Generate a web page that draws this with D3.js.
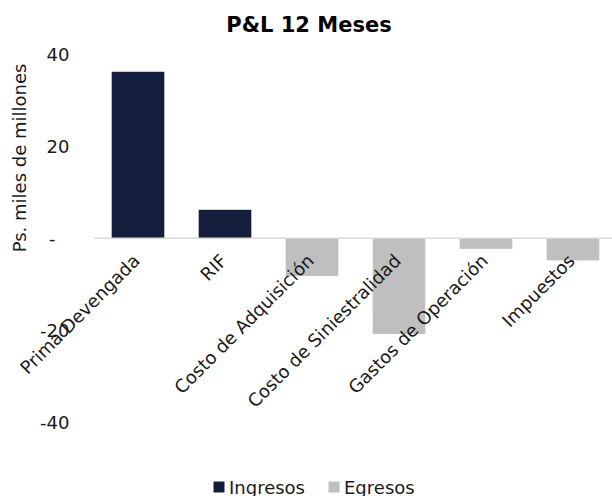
<!DOCTYPE html>
<html>
<head>
<meta charset="utf-8">
<script src="https://cdn.jsdelivr.net/npm/d3@7"></script>
<style>
  html, body { margin: 0; padding: 0; background: #fff; }
  svg { display: block; font-family: "DejaVu Sans", Verdana, sans-serif; }
</style>
</head>
<body>
<svg id="chart" width="612" height="496"></svg>
<script>
const categories = ["Prima Devengada", "RIF", "Costo de Adquisición", "Costo de Siniestralidad", "Gastos de Operación", "Impuestos"];
const ingresos = [36.2, 6.2, null, null, null, null];
const egresos = [null, null, -8.2, -20.8, -2.3, -4.8];
const seriesNames = ["Ingresos", "Egresos"];
const seriesColors = ["#141E3C", "#BFBFBF"];
const yTicks = [-40, -20, 0, 20, 40];
const yTickLabels = ["-40", "-20", "-", "20", "40"];
const title = "P&L 12 Meses";
const yTitle = "Ps. miles de millones";

const svg = d3.select("#chart");

const x = d3.scaleBand().domain(categories).range([94.5, 616.5]).paddingInner(0.395).paddingOuter(0.1975);
const y = d3.scaleLinear().domain([-40, 40]).range([422.3, 54.3]);

// title
svg.append("text").attr("x", 309).attr("y", 32)
  .attr("text-anchor", "middle").attr("font-size", 21).attr("font-weight", "bold")
  .attr("fill", "#000").text(title);

// y axis title
svg.append("text")
  .attr("transform", `translate(26,158) rotate(-90)`)
  .attr("text-anchor", "middle").attr("font-size", 18).attr("fill", "#1a1a1a")
  .text(yTitle);

// y axis
const yAxis = d3.axisLeft(y).tickValues(yTicks)
  .tickFormat((d, i) => yTickLabels[i]).tickSize(0).tickPadding(0);
const gy = svg.append("g").attr("transform", "translate(69.5,0)").call(yAxis);
gy.select(".domain").remove();
gy.selectAll("text").attr("font-size", 18).attr("font-family", "DejaVu Sans, Verdana, sans-serif").attr("fill", "#1a1a1a");
gy.selectAll(".tick").filter(d => d === 0).select("text").attr("dx", -14);

// bars
const rows = categories.map((c, i) => ({ c, ing: ingresos[i], egr: egresos[i] }));
const barG = svg.append("g");
[ingresos, egresos].forEach((vals, si) => {
  barG.selectAll(null).data(categories.map((c, i) => ({ c, v: vals[i] })).filter(d => d.v != null))
    .enter().append("rect")
    .attr("x", d => x(d.c))
    .attr("width", x.bandwidth())
    .attr("y", d => y(Math.max(0, d.v)))
    .attr("height", d => Math.abs(y(d.v) - y(0)))
    .attr("fill", seriesColors[si]);
});

// zero axis line
const xAxis = d3.axisBottom(x).tickSize(0).tickFormat("");
const gx = svg.append("g").attr("transform", `translate(0,${y(0)})`).call(xAxis);
gx.select(".domain").attr("stroke", "#D9D9D9").attr("stroke-width", 1.5)
  .attr("d", `M94.3,0H612`);

// category labels
svg.append("g").selectAll("text").data(categories).enter().append("text")
  .attr("transform", d => `translate(${x(d) + x.bandwidth() / 2 + 3},262) rotate(-45)`)
  .attr("text-anchor", "end").attr("font-size", 18).attr("fill", "#1a1a1a")
  .text(d => d);

// legend
const legend = svg.append("g");
const legendX = [213.5, 328.5];
seriesNames.forEach((n, i) => {
  legend.append("rect").attr("x", legendX[i]).attr("y", 481.5).attr("width", 11).attr("height", 11).attr("fill", seriesColors[i]);
  legend.append("text").attr("x", legendX[i] + 15.5).attr("y", 493.5).attr("font-size", 18).attr("fill", "#1a1a1a").text(n);
});
</script>
</body>
</html>
